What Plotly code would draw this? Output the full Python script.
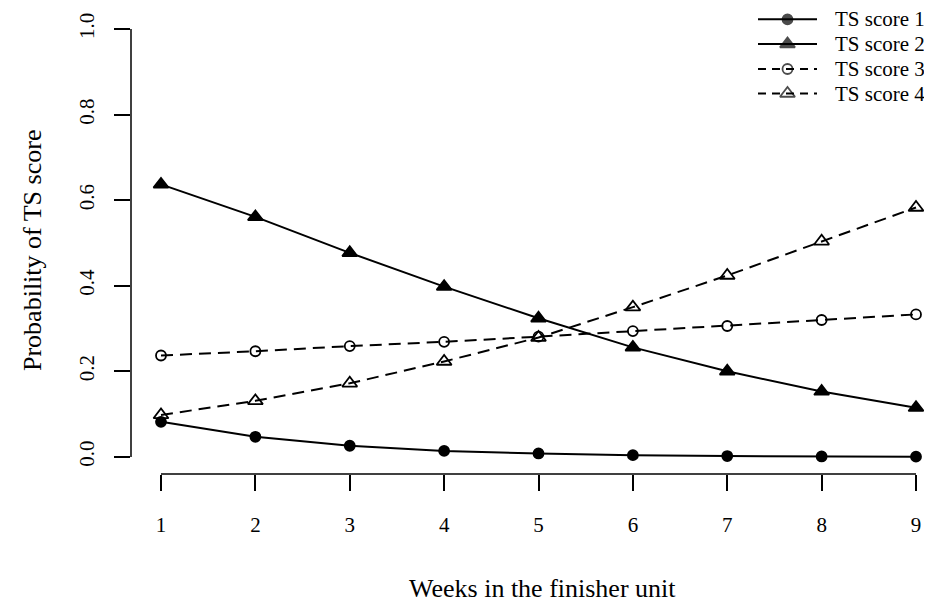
import plotly.graph_objects as go

weeks = [1, 2, 3, 4, 5, 6, 7, 8, 9]
ts1 = [0.082, 0.047, 0.026, 0.014, 0.008, 0.004, 0.002, 0.001, 0.0005]
ts2 = [0.637, 0.561, 0.477, 0.398, 0.324, 0.256, 0.200, 0.153, 0.115]
ts3 = [0.237, 0.247, 0.259, 0.269, 0.281, 0.294, 0.306, 0.320, 0.333]
ts4 = [0.098, 0.131, 0.172, 0.223, 0.279, 0.350, 0.424, 0.504, 0.583]
series_names = ["TS score 1", "TS score 2", "TS score 3", "TS score 4"]
y_ticks = [0.0, 0.2, 0.4, 0.6, 0.8, 1.0]
y_tick_text = ["0.0", "0.2", "0.4", "0.6", "0.8", "1.0"]

FONT = "Liberation Serif"
DASH = "12px,7px"
styles = [
    dict(dash="solid", symbol="circle", size=10),
    dict(dash="solid", symbol="triangle-up", size=13),
    dict(dash=DASH, symbol="circle-open", size=10),
    dict(dash=DASH, symbol="triangle-up-open", size=13),
]
data = [ts1, ts2, ts3, ts4]

fig = go.Figure()
for name, ys, st in zip(series_names, data, styles):
    fig.add_trace(go.Scatter(
        x=weeks, y=ys, mode="lines+markers", name=name, showlegend=False,
        line=dict(color="black", width=2, dash=st["dash"]),
        marker=dict(color="black", symbol=st["symbol"], size=st["size"],
                    line=dict(color="black", width=1.8)),
        cliponaxis=False,
    ))

# page offset (browser body margin) and plot-area edges in screen pixels
OFF = 8
W, H = 932, 604
FIG_W, FIG_H = W - 2 * OFF, H - OFF
L, R, T, B = 131, W - OFF, 12, 474
X1_PX, X9_PX = 161, 916
PX_PER_WEEK = (X9_PX - X1_PX) / 8

# custom R-style legend (pixel-mapped helper axes)
leg_rows = [19.3, 44, 69, 93.5]
for name, row, st in zip(series_names, leg_rows, styles):
    fig.add_trace(go.Scatter(
        x=[758, 787.5, 817], y=[row] * 3, xaxis="x2", yaxis="y2",
        mode="lines+markers", showlegend=False, hoverinfo="skip",
        line=dict(color="black", width=2, dash="8px,6px" if st["dash"] != "solid" else "solid"),
        marker=dict(color=["rgba(0,0,0,0)", "black", "rgba(0,0,0,0)"],
                    symbol=st["symbol"], size=[0, st["size"], 0],
                    line=dict(color=["rgba(0,0,0,0)", "black", "rgba(0,0,0,0)"], width=1.8)),
        cliponaxis=False,
    ))
    fig.add_annotation(x=(833 - L) / (R - L), y=(B - row) / (B - T), xref="paper", yref="paper",
                       text=name, showarrow=False, xanchor="left", yanchor="middle",
                       font=dict(family=FONT, size=21, color="black"))

fig.update_layout(
    width=FIG_W, height=FIG_H,
    margin=dict(l=L - OFF, r=OFF + FIG_W - R, t=T - OFF, b=OFF + FIG_H - B, autoexpand=False),
    paper_bgcolor="white", plot_bgcolor="rgba(0,0,0,0)",
    showlegend=False,
    font=dict(family=FONT, color="black"),
    xaxis=dict(range=[1 - (X1_PX - L) / PX_PER_WEEK, 9 + (R - X9_PX) / PX_PER_WEEK],
               tickvals=weeks, ticks="outside",
               ticklen=16, tickwidth=1.5, tickcolor="black", showline=False,
               showgrid=False, zeroline=False, tickfont=dict(family=FONT, size=21),
               ticklabelstandoff=16, automargin=False, ticklabeloverflow="allow"),
    yaxis=dict(range=[-0.04, 1.04], tickvals=y_ticks, ticktext=y_tick_text, ticks="outside",
               ticklen=16, tickwidth=1.5, tickcolor="black", showline=False,
               showgrid=False, zeroline=False, tickangle=-90, automargin=False,
               tickfont=dict(family=FONT, size=21), ticklabelstandoff=12,
               ticklabeloverflow="allow"),
    xaxis2=dict(domain=[0, 1], range=[L, R], anchor="y2", visible=False),
    yaxis2=dict(domain=[0, 1], range=[B, T], anchor="x2", visible=False),
)

# R-style axis lines spanning only the tick range
fig.add_shape(type="line", xref="x", yref="y domain", x0=1, x1=9, y0=0, y1=0,
              line=dict(color="black", width=1.5))
fig.add_shape(type="line", xref="x domain", yref="y", x0=0, x1=0, y0=0, y1=1,
              line=dict(color="black", width=1.5))

fig.add_annotation(x=(542 - L) / (R - L), y=(B - 588) / (B - T), xref="paper", yref="paper",
                   text="Weeks in the finisher unit", showarrow=False,
                   xanchor="center", yanchor="middle", font=dict(family=FONT, size=26))
fig.add_annotation(x=(32 - L) / (R - L), y=(B - 251) / (B - T), xref="paper", yref="paper",
                   text="Probability of TS score", showarrow=False, textangle=-90,
                   xanchor="center", yanchor="middle", font=dict(family=FONT, size=26))

fig.write_html("out.html")
